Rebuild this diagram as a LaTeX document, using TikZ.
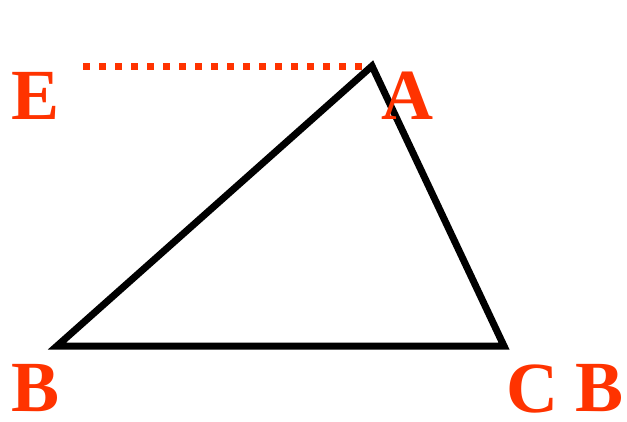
\documentclass[tikz,border=0pt]{standalone}
\usepackage{fontspec}
\setmainfont{Liberation Serif}
\definecolor{lbl}{HTML}{FF3300}
\begin{document}
\begin{tikzpicture}[x=1pt,y=1pt,
  lab/.style={text=lbl,font=\bfseries\fontsize{72}{72}\selectfont,inner sep=0pt,anchor=base west},
  tri/.style={draw=black,line width=7pt,miter limit=20},
  dots/.style={draw=lbl,line width=7pt,dash pattern=on 7pt off 9pt}]
\useasboundingbox (0,0) rectangle (627,421);
\coordinate (A) at (372,355);
\coordinate (B) at (57,75);
\coordinate (C) at (504,75);
\coordinate (E) at (83,354);
\coordinate (Ae) at (368,354);
\draw[tri] (A) -- (C) -- (B) -- cycle;
\draw[dots] (E) -- (Ae);
\node[lab] (lE) at (11,301) {E};
\node[lab] (lA) at (381,301) {A};
\node[lab] (lB) at (11,10) {B};
\node[lab] (lC) at (506,9) {C};
\node[lab] (lB2) at (575,10) {B};
\end{tikzpicture}
\end{document}
